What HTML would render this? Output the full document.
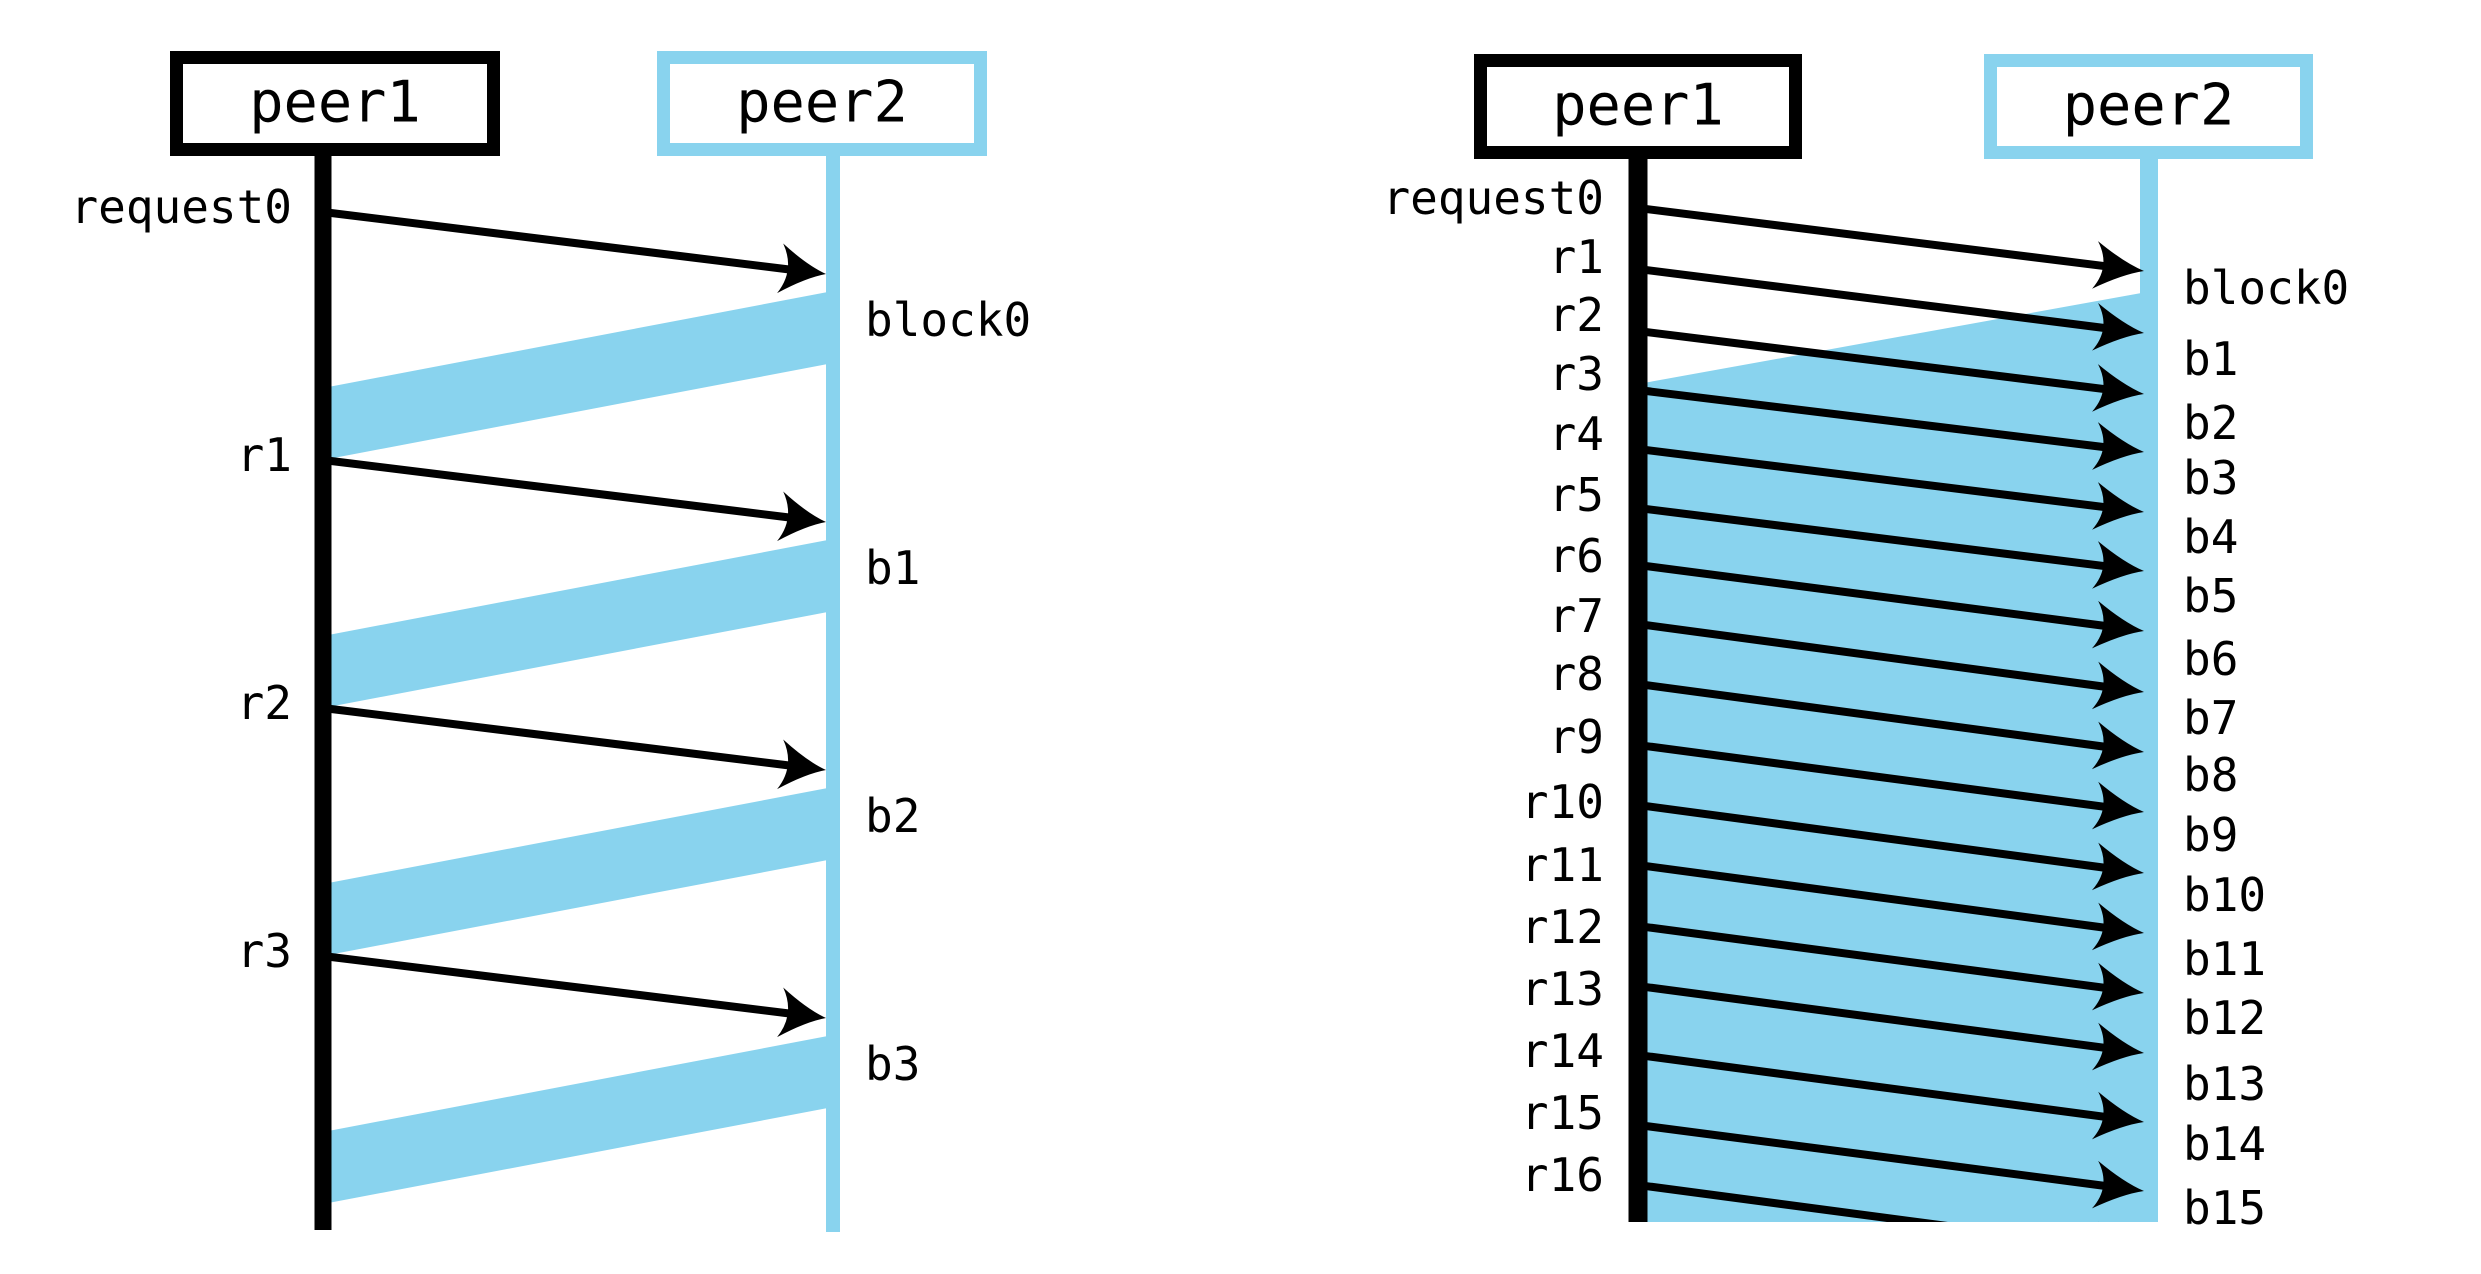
<!DOCTYPE html>
<html><head><meta charset="utf-8"><style>
html,body{margin:0;padding:0;background:#fff;}
svg{display:block;}
text{font-family:"DejaVu Sans Mono","Liberation Mono",monospace;fill:#000;}
</style></head><body>
<svg id="chart" width="2481" height="1274" viewBox="0 0 2481 1274" xmlns="http://www.w3.org/2000/svg">
<defs>
<clipPath id="rightClip"><rect x="1628" y="150" width="540" height="1072"/></clipPath>
</defs>
<g id="left"></g>
<g id="right"></g>
</svg>
<script>
// ---- Left diagram data (stop-and-wait) ----
const leftReqLabels = ["request0","r1","r2","r3"];
const leftBlkLabels = ["block0","b1","b2","b3"];
const leftReqTimes = [212, 460, 708, 956];
const leftArrivalTimes = [274, 522, 770, 1018];
// ---- Right diagram data (pipelined) ----
const rightReqLabels = ["request0","r1","r2","r3","r4","r5","r6","r7","r8","r9","r10","r11","r12","r13","r14","r15","r16"];
const rightReqTimes = [208,269,331,390,449,508,565,624,684,745,805,865,926,986,1055,1125,1185];
const rightArrivalTimes = [271,333,394,452,512,571,631,692,752,812,873,933,993,1053,1122,1191,1252];
const rightReqLabelY = [214,273,331,390,450,511,572,632,690,753,818,881,943,1005,1067,1129,1191];
const rightBlkLabels = ["block0","b1","b2","b3","b4","b5","b6","b7","b8","b9","b10","b11","b12","b13","b14","b15"];
const rightBlkLabelY = [304,375,439,494,553,612,675,734,791,851,911,975,1034,1100,1160,1224];

const NS="http://www.w3.org/2000/svg";
function mk(tag, attrs, parent){const e=document.createElementNS(NS,tag);for(const k in attrs)e.setAttribute(k,attrs[k]);parent.appendChild(e);return e;}
function arrow(parent,x1,y1,x2,y2,len,hw,name){
  const g=mk("g",{},parent);
  
  
  const ang=Math.atan2(y2-y1,x2-x1);
  const bx=x2-Math.cos(ang)*len*0.7, by=y2-Math.sin(ang)*len*0.7;
  mk("line",{x1:x1,y1:y1,x2:bx,y2:by,stroke:"#000","stroke-width":8},g);
  const deg=ang*180/Math.PI;
  mk("path",{d:`M0,0 Q${-len*0.45},${-hw*0.25} ${-len*1.05},${-hw} Q${-len*0.7},0 ${-len*1.05},${hw} Q${-len*0.45},${hw*0.25} 0,0 Z`,fill:"#000",transform:`translate(${x2},${y2}) rotate(${deg})`},g);
}
function box(parent,x,y,w,h,color,label,name){
  const g=mk("g",{},parent);
  
  
  mk("rect",{x:x+6.5,y:y+6.5,width:w-13,height:h-13,fill:"#fff",stroke:color,"stroke-width":13},g);
  const t=mk("text",{x:x+w/2,y:y+h/2+18,"text-anchor":"middle","font-size":57},g);
  t.textContent=label;
}
const BLUE="#89d3ee";

// ---- Left ----
(function(){
  const L=document.getElementById("left");
  const x1=323, x2=833, lw1=17, lw2=14;
  for(let i=0;i<leftReqTimes.length;i++){
    const tip=leftArrivalTimes[i];
    const next=leftReqTimes[i]+248;
    const p=mk("polygon",{points:`${x1},${next-72} ${x2},${tip+17} ${x2},${tip+89} ${x1},${next}`,fill:BLUE},L);
    
    
  }
  const l1=mk("rect",{x:x1-lw1/2,y:150,width:lw1,height:1080,fill:"#000"},L);
  
  
  const l2=mk("rect",{x:x2-lw2/2,y:150,width:lw2,height:1082,fill:BLUE},L);
  
  
  box(L,170,51,330,105,"#000","peer1","peer1-box");
  box(L,657,51,330,105,BLUE,"peer2","peer2-box");
  for(let i=0;i<leftReqTimes.length;i++){
    arrow(L,x1,leftReqTimes[i],x2-7,leftArrivalTimes[i],44,25,'request-arrow-'+i);
    const t=mk("text",{x:292,y:leftReqTimes[i]+11,"text-anchor":"end","font-size":46},L);
    t.textContent=leftReqLabels[i];
    
    
    const b=mk("text",{x:865,y:leftArrivalTimes[i]+62,"font-size":46},L);
    b.textContent=leftBlkLabels[i];
    
    
  }
})();

// ---- Right ----
(function(){
  const R=document.getElementById("right");
  const x1=1638, x2=2149, lw1=19, lw2=18, bottom=1222;
  const fill=mk("polygon",{points:`${x1},${rightReqTimes[3]-6} ${x2+lw2/2},${rightArrivalTimes[0]+19} ${x2+lw2/2},${bottom} ${x1},${bottom}`,fill:BLUE},R);
  
  
  const l2=mk("rect",{x:x2-lw2/2,y:150,width:lw2,height:rightArrivalTimes[0]+25-150,fill:BLUE},R);
  
  
  box(R,1474,54,328,105,"#000","peer1","peer1-box");
  box(R,1984,54,329,105,BLUE,"peer2","peer2-box");
  const ag=mk("g",{"clip-path":"url(#rightClip)"},R);
  for(let i=0;i<rightReqTimes.length;i++){
    arrow(ag,x1,rightReqTimes[i],x2-5,rightArrivalTimes[i],47,24,'request-arrow-'+i);
    const t=mk("text",{x:1604,y:rightReqLabelY[i],"text-anchor":"end","font-size":46},R);
    t.textContent=rightReqLabels[i];
    
    
  }
  const l1=mk("rect",{x:x1-lw1/2,y:150,width:lw1,height:bottom-150,fill:"#000"},R);
  
  
  for(let i=0;i<rightBlkLabels.length;i++){
    const b=mk("text",{x:2183,y:rightBlkLabelY[i],"font-size":46},R);
    b.textContent=rightBlkLabels[i];
    
    
  }
})();
</script>
</body></html>
